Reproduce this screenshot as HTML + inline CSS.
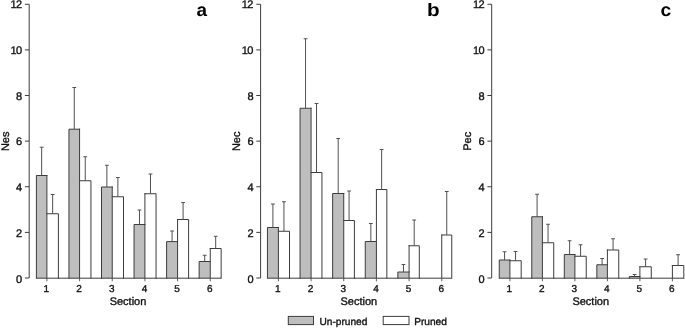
<!DOCTYPE html>
<html><head><meta charset="utf-8"><title>Figure</title>
<style>
html,body{margin:0;padding:0;background:#fff;}
body{width:685px;height:328px;overflow:hidden;}
svg{display:block;}
text{font-family:"Liberation Sans",Arial,Helvetica,sans-serif;fill:#111;stroke:#111;stroke-width:0.35px;text-rendering:geometricPrecision;}
.t{font-size:11px;}
.k{font-size:11px;}
.x{font-size:10px;}
.l{font-size:10.15px;}
.p{font-size:18px;font-weight:bold;fill:#000;stroke:none;}
</style></head><body>
<svg width="685" height="328" viewBox="0 0 685 328">
<rect width="685" height="328" fill="#fff"/>
<g id="panel-a">
<path d="M29.20 4.3V278" stroke="#3c3c3c" stroke-width="1" fill="none"/>
<path d="M24.90 278.00H29.20" stroke="#3c3c3c" stroke-width="1" fill="none"/><text class="k" x="22.20" y="282.75" text-anchor="end">0</text>
<path d="M24.90 232.38H29.20" stroke="#3c3c3c" stroke-width="1" fill="none"/><text class="k" x="22.20" y="236.99" text-anchor="end">2</text>
<path d="M24.90 186.76H29.20" stroke="#3c3c3c" stroke-width="1" fill="none"/><text class="k" x="22.20" y="191.23" text-anchor="end">4</text>
<path d="M24.90 141.14H29.20" stroke="#3c3c3c" stroke-width="1" fill="none"/><text class="k" x="22.20" y="145.47" text-anchor="end">6</text>
<path d="M24.90 95.52H29.20" stroke="#3c3c3c" stroke-width="1" fill="none"/><text class="k" x="22.20" y="99.71" text-anchor="end">8</text>
<path d="M24.90 49.90H29.20" stroke="#3c3c3c" stroke-width="1" fill="none"/><text class="k" x="22.20" y="53.95" text-anchor="end" letter-spacing="-0.6" dx="-0.7">10</text>
<path d="M24.90 4.28H29.20" stroke="#3c3c3c" stroke-width="1" fill="none"/><text class="k" x="22.20" y="8.19" text-anchor="end" letter-spacing="-0.6" dx="-0.7">12</text>
<text class="t" transform="translate(8.70 141.3) rotate(-90)" text-anchor="middle">Nes</text>
<rect x="36.40" y="175.50" width="10.50" height="102.70" fill="#bebebe"/><path d="M36.40 278.2V175.50H46.90M46.90 175.50V278.2M46.90 213.75H58.40V278.2" stroke="#3c3c3c" stroke-width="1" fill="none" stroke-linecap="square"/><path d="M41.65 175.50V147.25M39.75 147.25H43.55M52.65 213.75V194.50M50.75 194.50H54.55" stroke="#505050" stroke-width="1" fill="none"/>
<rect x="68.95" y="129.20" width="10.62" height="149.00" fill="#bebebe"/><path d="M68.95 278.2V129.20H79.57M79.57 129.20V278.2M79.57 180.75H90.95V278.2" stroke="#3c3c3c" stroke-width="1" fill="none" stroke-linecap="square"/><path d="M74.26 129.20V87.50M72.36 87.50H76.16M85.26 180.75V156.75M83.36 156.75H87.16" stroke="#505050" stroke-width="1" fill="none"/>
<rect x="101.50" y="187.00" width="10.74" height="91.20" fill="#bebebe"/><path d="M101.50 278.2V187.00H112.24M112.24 187.00V278.2M112.24 196.75H123.50V278.2" stroke="#3c3c3c" stroke-width="1" fill="none" stroke-linecap="square"/><path d="M106.87 187.00V165.25M104.97 165.25H108.77M117.87 196.75V177.50M115.97 177.50H119.77" stroke="#505050" stroke-width="1" fill="none"/>
<rect x="134.05" y="224.50" width="10.86" height="53.70" fill="#bebebe"/><path d="M134.05 278.2V224.50H144.91M144.91 193.75V278.2M144.91 193.75H156.05V278.2" stroke="#3c3c3c" stroke-width="1" fill="none" stroke-linecap="square"/><path d="M139.48 224.50V210.00M137.58 210.00H141.38M150.48 193.75V174.00M148.58 174.00H152.38" stroke="#505050" stroke-width="1" fill="none"/>
<rect x="166.60" y="241.60" width="10.98" height="36.60" fill="#bebebe"/><path d="M166.60 278.2V241.60H177.58M177.58 219.50V278.2M177.58 219.50H188.60V278.2" stroke="#3c3c3c" stroke-width="1" fill="none" stroke-linecap="square"/><path d="M172.09 241.60V231.00M170.19 231.00H173.99M183.09 219.50V202.60M181.19 202.60H184.99" stroke="#505050" stroke-width="1" fill="none"/>
<rect x="199.15" y="261.50" width="11.10" height="16.70" fill="#bebebe"/><path d="M199.15 278.2V261.50H210.25M210.25 248.50V278.2M210.25 248.50H221.15V278.2" stroke="#3c3c3c" stroke-width="1" fill="none" stroke-linecap="square"/><path d="M204.70 261.50V255.25M202.80 255.25H206.60M215.70 248.50V236.25M213.80 236.25H217.60" stroke="#505050" stroke-width="1" fill="none"/>
<path d="M36.40 278.2H221.15" stroke="#3c3c3c" stroke-width="1" fill="none"/>
<path d="M46.90 278.2V281.3" stroke="#606060" stroke-width="1" fill="none"/><text class="x" x="46.40" y="292" text-anchor="middle">1</text>
<path d="M79.57 278.2V281.3" stroke="#606060" stroke-width="1" fill="none"/><text class="x" x="79.07" y="292" text-anchor="middle">2</text>
<path d="M112.24 278.2V281.3" stroke="#606060" stroke-width="1" fill="none"/><text class="x" x="111.74" y="292" text-anchor="middle">3</text>
<path d="M144.91 278.2V281.3" stroke="#606060" stroke-width="1" fill="none"/><text class="x" x="144.41" y="292" text-anchor="middle">4</text>
<path d="M177.58 278.2V281.3" stroke="#606060" stroke-width="1" fill="none"/><text class="x" x="177.08" y="292" text-anchor="middle">5</text>
<path d="M210.25 278.2V281.3" stroke="#606060" stroke-width="1" fill="none"/><text class="x" x="209.75" y="292" text-anchor="middle">6</text>
<text class="t" x="127.98" y="305" text-anchor="middle">Section</text>
<text class="p" transform="translate(196.50 16.4) scale(1.05 1)">a</text>
</g>
<g id="panel-b">
<path d="M260.60 4.3V278" stroke="#3c3c3c" stroke-width="1" fill="none"/>
<path d="M256.30 278.00H260.60" stroke="#3c3c3c" stroke-width="1" fill="none"/><text class="k" x="253.60" y="282.75" text-anchor="end">0</text>
<path d="M256.30 232.38H260.60" stroke="#3c3c3c" stroke-width="1" fill="none"/><text class="k" x="253.60" y="236.99" text-anchor="end">2</text>
<path d="M256.30 186.76H260.60" stroke="#3c3c3c" stroke-width="1" fill="none"/><text class="k" x="253.60" y="191.23" text-anchor="end">4</text>
<path d="M256.30 141.14H260.60" stroke="#3c3c3c" stroke-width="1" fill="none"/><text class="k" x="253.60" y="145.47" text-anchor="end">6</text>
<path d="M256.30 95.52H260.60" stroke="#3c3c3c" stroke-width="1" fill="none"/><text class="k" x="253.60" y="99.71" text-anchor="end">8</text>
<path d="M256.30 49.90H260.60" stroke="#3c3c3c" stroke-width="1" fill="none"/><text class="k" x="253.60" y="53.95" text-anchor="end" letter-spacing="-0.6" dx="-0.7">10</text>
<path d="M256.30 4.28H260.60" stroke="#3c3c3c" stroke-width="1" fill="none"/><text class="k" x="253.60" y="8.19" text-anchor="end" letter-spacing="-0.6" dx="-0.7">12</text>
<text class="t" transform="translate(240.20 141.3) rotate(-90)" text-anchor="middle">Nec</text>
<rect x="267.45" y="227.50" width="10.95" height="50.70" fill="#bebebe"/><path d="M267.45 278.2V227.50H278.40M278.40 227.50V278.2M278.40 231.25H289.50V278.2" stroke="#3c3c3c" stroke-width="1" fill="none" stroke-linecap="square"/><path d="M272.92 227.50V204.00M271.02 204.00H274.82M283.95 231.25V201.75M282.05 201.75H285.85" stroke="#505050" stroke-width="1" fill="none"/>
<rect x="300.05" y="108.25" width="11.02" height="169.95" fill="#bebebe"/><path d="M300.05 278.2V108.25H311.07M311.07 108.25V278.2M311.07 172.50H321.95V278.2" stroke="#3c3c3c" stroke-width="1" fill="none" stroke-linecap="square"/><path d="M305.56 108.25V38.75M303.66 38.75H307.46M316.51 172.50V103.50M314.61 103.50H318.41" stroke="#505050" stroke-width="1" fill="none"/>
<rect x="332.65" y="193.50" width="11.09" height="84.70" fill="#bebebe"/><path d="M332.65 278.2V193.50H343.74M343.74 193.50V278.2M343.74 220.50H354.40V278.2" stroke="#3c3c3c" stroke-width="1" fill="none" stroke-linecap="square"/><path d="M338.19 193.50V138.50M336.30 138.50H340.09M349.07 220.50V191.00M347.17 191.00H350.97" stroke="#505050" stroke-width="1" fill="none"/>
<rect x="365.25" y="241.50" width="11.16" height="36.70" fill="#bebebe"/><path d="M365.25 278.2V241.50H376.41M376.41 189.50V278.2M376.41 189.50H386.85V278.2" stroke="#3c3c3c" stroke-width="1" fill="none" stroke-linecap="square"/><path d="M370.83 241.50V223.50M368.93 223.50H372.73M381.63 189.50V149.50M379.73 149.50H383.53" stroke="#505050" stroke-width="1" fill="none"/>
<rect x="397.85" y="272.00" width="11.23" height="6.20" fill="#bebebe"/><path d="M397.85 278.2V272.00H409.08M409.08 245.75V278.2M409.08 245.75H419.30V278.2" stroke="#3c3c3c" stroke-width="1" fill="none" stroke-linecap="square"/><path d="M403.47 272.00V264.50M401.57 264.50H405.37M414.19 245.75V220.00M412.29 220.00H416.09" stroke="#505050" stroke-width="1" fill="none"/>
<path d="M441.75 235.00V278.2M441.75 235.00H451.75V278.2" stroke="#3c3c3c" stroke-width="1" fill="none" stroke-linecap="square"/><path d="M446.75 235.00V191.50M444.85 191.50H448.65" stroke="#505050" stroke-width="1" fill="none"/>
<path d="M267.45 278.2H451.75" stroke="#3c3c3c" stroke-width="1" fill="none"/>
<path d="M278.40 278.2V281.3" stroke="#606060" stroke-width="1" fill="none"/><text class="x" x="277.90" y="292" text-anchor="middle">1</text>
<path d="M311.07 278.2V281.3" stroke="#606060" stroke-width="1" fill="none"/><text class="x" x="310.57" y="292" text-anchor="middle">2</text>
<path d="M343.74 278.2V281.3" stroke="#606060" stroke-width="1" fill="none"/><text class="x" x="343.24" y="292" text-anchor="middle">3</text>
<path d="M376.41 278.2V281.3" stroke="#606060" stroke-width="1" fill="none"/><text class="x" x="375.91" y="292" text-anchor="middle">4</text>
<path d="M409.08 278.2V281.3" stroke="#606060" stroke-width="1" fill="none"/><text class="x" x="408.58" y="292" text-anchor="middle">5</text>
<path d="M441.75 278.2V281.3" stroke="#606060" stroke-width="1" fill="none"/><text class="x" x="441.25" y="292" text-anchor="middle">6</text>
<text class="t" x="358.80" y="305" text-anchor="middle">Section</text>
<text class="p" transform="translate(427.10 16.4) scale(1.15 1)">b</text>
</g>
<g id="panel-c">
<path d="M491.70 4.3V278" stroke="#3c3c3c" stroke-width="1" fill="none"/>
<path d="M487.40 278.00H491.70" stroke="#3c3c3c" stroke-width="1" fill="none"/><text class="k" x="484.70" y="282.75" text-anchor="end">0</text>
<path d="M487.40 232.38H491.70" stroke="#3c3c3c" stroke-width="1" fill="none"/><text class="k" x="484.70" y="236.99" text-anchor="end">2</text>
<path d="M487.40 186.76H491.70" stroke="#3c3c3c" stroke-width="1" fill="none"/><text class="k" x="484.70" y="191.23" text-anchor="end">4</text>
<path d="M487.40 141.14H491.70" stroke="#3c3c3c" stroke-width="1" fill="none"/><text class="k" x="484.70" y="145.47" text-anchor="end">6</text>
<path d="M487.40 95.52H491.70" stroke="#3c3c3c" stroke-width="1" fill="none"/><text class="k" x="484.70" y="99.71" text-anchor="end">8</text>
<path d="M487.40 49.90H491.70" stroke="#3c3c3c" stroke-width="1" fill="none"/><text class="k" x="484.70" y="53.95" text-anchor="end" letter-spacing="-0.6" dx="-0.7">10</text>
<path d="M487.40 4.28H491.70" stroke="#3c3c3c" stroke-width="1" fill="none"/><text class="k" x="484.70" y="8.19" text-anchor="end" letter-spacing="-0.6" dx="-0.7">12</text>
<text class="t" transform="translate(471.30 141.3) rotate(-90)" text-anchor="middle">Pec</text>
<rect x="499.25" y="260.00" width="10.65" height="18.20" fill="#bebebe"/><path d="M499.25 278.2V260.00H509.90M509.90 260.00V278.2M509.90 260.75H521.20V278.2" stroke="#3c3c3c" stroke-width="1" fill="none" stroke-linecap="square"/><path d="M504.57 260.00V251.75M502.68 251.75H506.47M515.55 260.75V251.50M513.65 251.50H517.45" stroke="#505050" stroke-width="1" fill="none"/>
<rect x="531.78" y="216.75" width="10.62" height="61.45" fill="#bebebe"/><path d="M531.78 278.2V216.75H542.40M542.40 216.75V278.2M542.40 242.75H553.72V278.2" stroke="#3c3c3c" stroke-width="1" fill="none" stroke-linecap="square"/><path d="M537.09 216.75V194.25M535.19 194.25H538.99M548.06 242.75V224.25M546.16 224.25H549.96" stroke="#505050" stroke-width="1" fill="none"/>
<rect x="564.31" y="254.50" width="10.59" height="23.70" fill="#bebebe"/><path d="M564.31 278.2V254.50H574.90M574.90 254.50V278.2M574.90 256.25H586.24V278.2" stroke="#3c3c3c" stroke-width="1" fill="none" stroke-linecap="square"/><path d="M569.61 254.50V240.75M567.71 240.75H571.50M580.57 256.25V244.75M578.67 244.75H582.47" stroke="#505050" stroke-width="1" fill="none"/>
<rect x="596.84" y="264.75" width="10.56" height="13.45" fill="#bebebe"/><path d="M596.84 278.2V264.75H607.40M607.40 250.00V278.2M607.40 250.00H618.76V278.2" stroke="#3c3c3c" stroke-width="1" fill="none" stroke-linecap="square"/><path d="M602.12 264.75V258.50M600.22 258.50H604.02M613.08 250.00V238.75M611.18 238.75H614.98" stroke="#505050" stroke-width="1" fill="none"/>
<rect x="629.37" y="276.50" width="10.53" height="1.70" fill="#bebebe"/><path d="M629.37 278.2V276.50H639.90M639.90 266.75V278.2M639.90 266.75H651.28V278.2" stroke="#3c3c3c" stroke-width="1" fill="none" stroke-linecap="square"/><path d="M634.63 276.50V274.50M632.74 274.50H636.53M645.59 266.75V259.00M643.69 259.00H647.49" stroke="#505050" stroke-width="1" fill="none"/>
<path d="M672.40 265.50V278.2M672.40 265.50H683.80V278.2" stroke="#3c3c3c" stroke-width="1" fill="none" stroke-linecap="square"/><path d="M678.10 265.50V254.75M676.20 254.75H680.00" stroke="#505050" stroke-width="1" fill="none"/>
<path d="M499.25 278.2H683.80" stroke="#3c3c3c" stroke-width="1" fill="none"/>
<path d="M509.90 278.2V281.3" stroke="#606060" stroke-width="1" fill="none"/><text class="x" x="509.40" y="292" text-anchor="middle">1</text>
<path d="M542.40 278.2V281.3" stroke="#606060" stroke-width="1" fill="none"/><text class="x" x="541.90" y="292" text-anchor="middle">2</text>
<path d="M574.90 278.2V281.3" stroke="#606060" stroke-width="1" fill="none"/><text class="x" x="574.40" y="292" text-anchor="middle">3</text>
<path d="M607.40 278.2V281.3" stroke="#606060" stroke-width="1" fill="none"/><text class="x" x="606.90" y="292" text-anchor="middle">4</text>
<path d="M639.90 278.2V281.3" stroke="#606060" stroke-width="1" fill="none"/><text class="x" x="639.40" y="292" text-anchor="middle">5</text>
<path d="M672.40 278.2V281.3" stroke="#606060" stroke-width="1" fill="none"/><text class="x" x="671.90" y="292" text-anchor="middle">6</text>
<text class="t" x="590.73" y="305" text-anchor="middle">Section</text>
<text class="p" transform="translate(660.40 16.4) scale(1.07 1)">c</text>
</g>
<g id="legend">
<rect x="288.3" y="316.4" width="25.2" height="8.2" fill="#bebebe" stroke="#3c3c3c" stroke-width="1"/>
<text class="l" x="319.5" y="324.5">Un-pruned</text>
<rect x="383.2" y="316.4" width="25.8" height="8.2" fill="#fff" stroke="#3c3c3c" stroke-width="1"/>
<text class="l" x="414.2" y="324.5">Pruned</text>
</g>
</svg>
</body></html>
